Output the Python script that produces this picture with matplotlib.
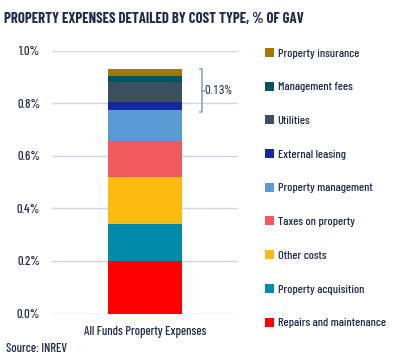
import matplotlib.pyplot as plt
from matplotlib.patches import Patch

plt.rcParams['font.family'] = ['Barlow Condensed', 'DejaVu Sans']

categories = ["Repairs and maintenance", "Property acquisition", "Other costs",
              "Taxes on property", "Property management", "External leasing",
              "Utilities", "Management fees", "Property insurance"]
values = [0.20, 0.14, 0.18, 0.135, 0.12, 0.03, 0.075, 0.023, 0.026]
colors = ["#ff0000", "#008ca8", "#fdbb12", "#f05a5e", "#5b9bd5",
          "#1428a0", "#3a5060", "#005462", "#a07800"]
bar_label = "All Funds Property Expenses"
bracket_text = "0.13%"

navy = "#1f2a4d"

fig = plt.figure(figsize=(3.95, 3.61), dpi=100)
ax = fig.add_axes([52 / 395, 1 - 313.5 / 361, 186 / 395, 263 / 361])

bottom = 0
for v, c, name in zip(values, colors, categories):
    ax.bar(0, v, bottom=bottom, width=0.4, color=c, label=name, zorder=3)
    bottom += v

ax.set_xlim(-0.5, 0.5)
ax.set_ylim(0, 1.0)
ax.set_yticks([0, 0.2, 0.4, 0.6, 0.8, 1.0])
ax.set_yticklabels(["0.0%", "0.2%", "0.4%", "0.6%", "0.8%", "1.0%"])
ax.set_xticks([0])
ax.set_xticklabels([bar_label])
ax.tick_params(length=0, labelsize=9, colors=navy)
ax.tick_params(axis="y", pad=8.5)
ax.tick_params(axis="x", pad=9)
for t in ax.get_xticklabels() + ax.get_yticklabels():
    t.set_fontweight(500)
ax.yaxis.grid(True, color="#d0d4e8", linewidth=1, zorder=0)
for s in ax.spines.values():
    s.set_visible(False)

# bracket for the top four components
y0, y1 = 0.765, 0.93
bx = 0.305
ax.plot([bx - 0.01, bx, bx, bx - 0.01], [y1, y1, y0, y0], color="#8fa3b8",
        linewidth=1.2, clip_on=False, zorder=4)
ym = (y0 + y1) / 2
ax.plot([bx, bx + 0.012], [ym, ym], color="#8fa3b8", linewidth=1.2,
        clip_on=False, zorder=4)
ax.text(bx + 0.012, ym, bracket_text, ha="left", va="center", fontsize=8.5,
        color=navy, family=["Roboto Condensed", "DejaVu Sans"])

handles = [Patch(facecolor=c, edgecolor="none") for c in colors][::-1]
leg = fig.legend(handles, categories[::-1], loc="upper left",
                 bbox_to_anchor=(260 / 395, 1 - 43 / 361), frameon=False,
                 prop={"family": "Barlow Condensed", "size": 8.8, "weight": 500},
                 handlelength=0.75, handleheight=0.75,
                 handletextpad=0.3, labelspacing=1.88, borderaxespad=0)
for t in leg.get_texts():
    t.set_color(navy)

fig.text(4 / 395, 1 - 19 / 361, "PROPERTY EXPENSES DETAILED BY COST TYPE, % OF GAV",
         fontsize=10.6, fontweight="bold", color=navy, va="center", ha="left")
fig.text(6 / 395, 1 - 349 / 361, "Source: INREV", fontsize=9, fontweight=500,
         color=navy, va="center", ha="left")

fig.savefig("out.png", dpi=100)
